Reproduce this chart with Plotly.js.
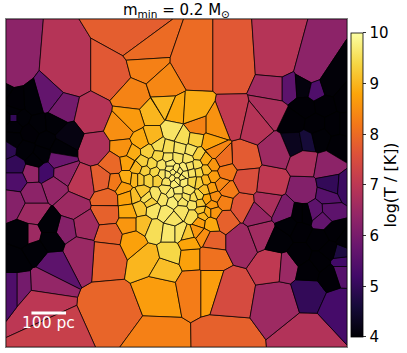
<!DOCTYPE html>
<html><head><meta charset="utf-8">
<script src="https://cdn.plot.ly/plotly-3.0.1.min.js"></script>
<style>html,body{margin:0;padding:0;background:#fff}#c{width:407px;height:353px}</style>
</head><body><div id="c"></div>
<script>
const seedX=[
8,69,134,112,145,146,194,232,278,311,
276,289,304,317,329,345,325,305,295,315,
335,296,307,320,340,346,272,47,60,91,
95,-3,33,15,13,6,20,13,13,38,
30,53,45,66,60,40,25,12,7,15,
32,45,58,62,15,35,
12,33,53,82,103,115,108,108,110,108,
113,160,158,148,165,170,133,72,84,65,
79,52,43,18,40,55,33,15,30,50,
50,35,15,25,
191,193,209,211,209,224,228,308,280,275,
287,309,340,241,262,258,285,268,304,241,
224,271,243,245,277,233,255,305,328,332,
345,329,330,316,322,342,342,341,280,300,
320,300,330,310,330,320,290,305,335,346,
300,215,197,210,222,223,226,
134,163,153,164,176,192,131,122,
124,141,133,127,114,127,124,127,129,129,
147,135,140,153,166,143,155,170,180,163,
173,170,178,183,188,182,193,193,173,140,
148,135,158,167,175,183,193,
177,173,180,172,182,176,168,185,177,170,184,
172,183,195,153,159,168,180,191,148,158,
168,178,188,198,143,152,162,170,190,197,
206,214,137,145,155,162,192,199,206,213,
225,199,206,213,205,212,199,207,215,221,
201,208,210,200,197,188,190,203,
212,194,200,214,203,186,178,166,156,142,150
];
const seedY=[
71,76,36,76,51,67,68,68,65,74,
88,88,87,90,86,100,105,108,122,125,
125,143,141,138,145,125,111,100,110,117,
148,93,104,105,118,118,118,125,111,125,
133,124,140,137,148,155,150,140,148,166,
172,172,160,173,180,160,
202,213,186,183,180,182,198,213,235,252,
309,291,342,258,268,253,240,207,226,229,
250,264,282,283,302,335,193,283,235,225,
240,250,262,235,
256,285,285,240,256,341,291,335,300,264,
265,291,305,240,232,215,212,204,192,206,
219,183,159,180,151,120,125,161,165,187,
188,196,211,212,219,262,271,253,240,230,
240,255,250,270,275,262,225,215,232,240,
215,127,127,143,160,202,190,
96,86,114,107,112,113,121,130,
149,141,153,163,165,178,188,197,212,224,
198,196,208,209,213,224,229,231,231,198,
201,193,191,201,191,211,204,216,219,179,
179,179,179,181,183,181,181,
175,172,171,178,178,169,175,174,181,168,168,
132,138,140,137,146,148,149,151,152,156,
158,158,159,155,162,164,165,164,166,165,
160,152,168,171,172,175,173,172,170,165,
172,182,180,177,190,188,196,199,197,185,
210,212,223,222,231,234,243,236,
205,198,203,212,216,197,197,190,195,192,202
];
const logT=[
6.3,6.9,7.8,7.7,8.0,8.3,8.0,7.7,6.9,6.3,
6.6,5.6,4.1,5.4,4.05,4.02,4.02,4.02,4.02,4.02,
4.02,4.3,4.6,4.03,4.02,4.02,6.75,5.7,5.95,6.9,
6.8,4.03,4.03,4.02,5.0,4.03,4.03,4.03,4.03,4.03,
4.02,4.03,4.03,4.15,4.03,4.03,4.03,4.03,4.9,5.0,
6.4,5.2,5.8,6.35,5.4,4.03,
6.2,6.55,6.4,7.0,7.8,8.2,7.9,7.85,7.85,7.85,
7.9,8.7,8.3,9.0,9.1,9.4,8.75,6.55,6.6,6.2,
6.5,5.6,6.4,5.95,7.0,7.2,6.3,5.4,6.55,4.03,
4.03,4.03,4.03,4.03,
8.75,8.25,8.7,7.85,8.1,7.85,7.45,6.85,6.55,7.05,
6.5,5.0,5.25,6.55,6.6,6.45,6.05,6.75,6.15,7.65,
7.85,7.05,7.75,7.55,6.55,7.1,6.9,6.7,6.3,5.0,
5.1,5.5,5.6,5.6,5.7,5.2,5.5,4.7,4.03,4.02,
4.02,4.02,4.02,4.02,4.02,4.02,4.03,4.02,4.02,4.02,
4.02,8.55,8.35,8.75,8.05,8.3,8.25,
8.35,8.4,9.0,9.05,8.85,8.9,8.65,8.5,
8.55,8.85,8.9,8.75,7.95,8.9,8.7,8.75,8.85,8.6,
9.5,9.1,9.2,9.6,9.65,9.1,9.5,9.65,9.6,9.6,
9.7,9.7,9.7,9.6,9.6,9.6,9.6,9.5,9.6,9.2,
9.35,9.0,9.3,9.6,9.7,9.7,9.4,
9.7,9.7,9.7,9.7,9.7,9.7,9.7,9.7,9.7,9.7,9.7,
9.6,9.5,9.3,9.0,9.5,9.5,9.6,9.6,9.3,9.4,
9.6,9.6,9.6,9.3,9.3,9.4,9.6,9.7,9.6,9.5,
8.9,8.4,9.0,9.3,9.4,9.6,9.6,9.4,9.1,8.6,
8.2,9.3,9.0,8.7,9.1,8.7,9.4,8.8,8.5,8.4,
9.2,8.9,8.85,8.7,8.6,9.2,8.8,8.5,
8.6,9.5,9.2,8.6,9.0,9.6,9.6,9.6,9.6,9.2,9.3
];
const cbTicks=[4,5,6,7,8,9,10];
const titleText='m<sub>min</sub> = 0.2 M<sub>⊙</sub>';
const barLabel='100 pc';
const barEnds=[31,65.7];
const barY=313;
const infernoStops=[[0,'#000004'],[0.1,'#160b39'],[0.2,'#420a68'],[0.3,'#6a176e'],[0.4,'#932667'],[0.5,'#bc3754'],[0.6,'#dd513a'],[0.7,'#f37819'],[0.8,'#fca50a'],[0.9,'#f6d746'],[1,'#fcffa4']];

function hex(c){return [1,3,5].map(i=>parseInt(c.slice(i,i+2),16));}
function colorOf(v){
  const t=Math.min(1,Math.max(0,(v-4)/6));
  for(let i=1;i<infernoStops.length;i++){
    if(t<=infernoStops[i][0]){
      const a=infernoStops[i-1],b=infernoStops[i],f=(t-a[0])/(b[0]-a[0]);
      const A=hex(a[1]),B=hex(b[1]);
      return 'rgb('+A.map((q,k)=>Math.round(q+(B[k]-q)*f)).join(',')+')';
    }
  }
}
const xr=[5.5,347.5], yr=[347,19];
function cell(i){
  let poly=[[xr[0],yr[1]],[xr[1],yr[1]],[xr[1],yr[0]],[xr[0],yr[0]]];
  const px=seedX[i],py=seedY[i];
  for(let j=0;j<seedX.length&&poly.length;j++){
    if(j===i)continue;
    const mx=(px+seedX[j])/2,my=(py+seedY[j])/2,nx=seedX[j]-px,ny=seedY[j]-py;
    const out=[];
    for(let k=0;k<poly.length;k++){
      const a=poly[k],b=poly[(k+1)%poly.length];
      const da=(a[0]-mx)*nx+(a[1]-my)*ny,db=(b[0]-mx)*nx+(b[1]-my)*ny;
      if(da<=0)out.push(a);
      if(da*db<0){const f=da/(da-db);out.push([a[0]+(b[0]-a[0])*f,a[1]+(b[1]-a[1])*f]);}
    }
    poly=out;
  }
  return poly;
}
const traces=[];
seedX.forEach((_,i)=>{
  const p=cell(i); if(p.length<3)return;
  traces.push({type:'scatter',mode:'lines',x:p.map(q=>q[0]).concat(p[0][0]),y:p.map(q=>q[1]).concat(p[0][1]),
    fill:'toself',fillcolor:colorOf(logT[i]),line:{color:'rgba(0,0,0,0.85)',width:0.8},hoverinfo:'skip',showlegend:false});
});
traces.push({type:'scatter',mode:'lines',x:barEnds,y:[barY,barY],line:{color:'#fff',width:3},hoverinfo:'skip',showlegend:false});
traces.push({type:'scatter',mode:'markers',x:[seedX[0]],y:[seedY[0]],hoverinfo:'skip',showlegend:false,
  marker:{size:0.01,opacity:0,color:[logT[0]],cmin:4,cmax:10,colorscale:infernoStops,showscale:true,
    colorbar:{x:351/407,xanchor:'left',xref:'container',y:0.494,yanchor:'middle',yref:'paper',thickness:12,thicknessmode:'pixels',len:304/328,lenmode:'fraction',ypad:0,xpad:0,
      outlinecolor:'#000',outlinewidth:0.8,tickvals:cbTicks,ticktext:cbTicks.map(String),ticks:'outside',ticklen:3.5,tickwidth:0.8,tickcolor:'#000',
      tickfont:{family:'DejaVu Sans',size:15,color:'#000'},
      title:{text:'log(T / [K])',side:'right',font:{family:'DejaVu Sans',size:16,color:'#000'}}}}});
const layout={width:407,height:353,margin:{l:5.5,r:59.5,t:19,b:6,pad:0},paper_bgcolor:'#fff',plot_bgcolor:'#000',showlegend:false,
  title:{text:titleText,x:0.4335,xanchor:'center',y:0.972,yanchor:'middle',font:{family:'DejaVu Sans',size:15,color:'#000'}},
  xaxis:{range:xr,showticklabels:false,ticks:'',showgrid:false,zeroline:false,showline:true,mirror:true,linecolor:'#808080',linewidth:1},
  yaxis:{range:yr,showticklabels:false,ticks:'',showgrid:false,zeroline:false,showline:true,mirror:true,linecolor:'#808080',linewidth:1},
  annotations:[{text:barLabel,x:(barEnds[0]+barEnds[1])/2,y:barY+10,xref:'x',yref:'y',showarrow:false,font:{family:'DejaVu Sans',size:15.5,color:'#fff'}}]};
Plotly.newPlot('c',traces,layout,{displayModeBar:false,staticPlot:true});
</script></body></html>
